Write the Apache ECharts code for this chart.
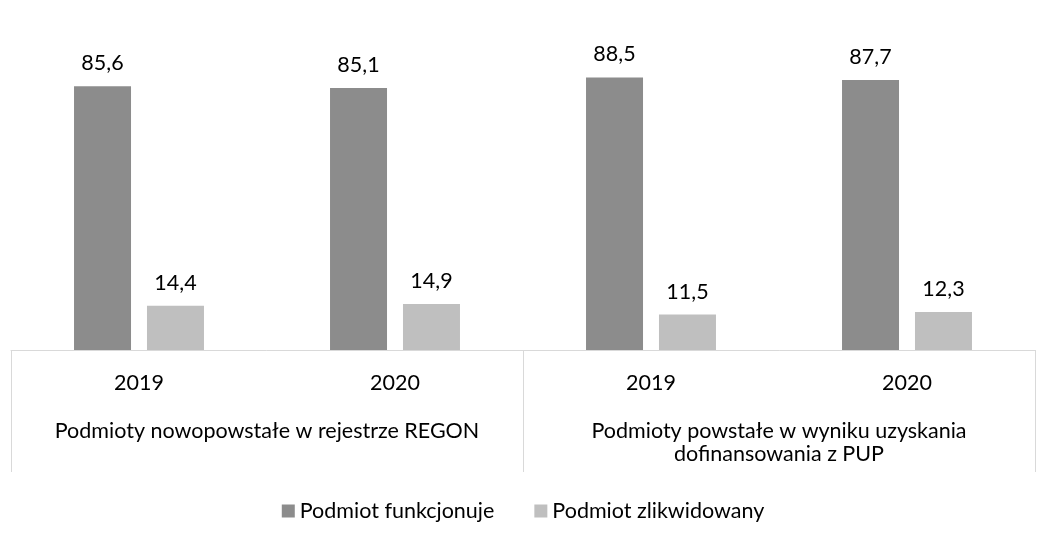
<!DOCTYPE html>
<html>
<head>
<meta charset="utf-8">
<script src="https://cdn.jsdelivr.net/npm/echarts@6/dist/echarts.min.js"></script>
<style>
  * { margin: 0; padding: 0; }
  #chart { width: 1046px; height: 544px; background: #fff; }
</style>
</head>
<body>
<div id="chart"></div>
<script>
// dane
var years = ['2019', '2020', '2019', '2020'];
var groups = ['Podmioty nowopowstałe w rejestrze REGON', 'Podmioty powstałe w wyniku uzyskania\ndofinansowania z PUP'];
var seriesNames = ['Podmiot funkcjonuje', 'Podmiot zlikwidowany'];
var funkcjonuje = [85.6, 85.1, 88.5, 87.7];
var zlikwidowany = [14.4, 14.9, 11.5, 12.3];

var FONT = 'Lato';
var FS = 21.5;
var chart = echarts.init(document.getElementById('chart'));

function labelFmt(p) {
  return String(p.value).replace('.', ',');
}

chart.setOption({
  animation: false,
  grid: { left: 11, right: 11, top: 42, bottom: 194, containLabel: false },
  legend: {
    data: seriesNames,
    top: 495,
    left: 'center',
    icon: 'rect',
    itemWidth: 13,
    itemHeight: 13,
    itemGap: 40,
    textStyle: { fontFamily: FONT, fontSize: FS, color: '#000' }
  },
  xAxis: [
    {
      type: 'category',
      data: years,
      position: 'bottom',
      axisLine: { lineStyle: { color: '#d9d9d9', width: 1 } },
      axisTick: { show: false },
      axisLabel: { margin: 22, fontFamily: FONT, fontSize: FS, color: '#000' }
    },
    {
      type: 'category',
      data: groups,
      position: 'bottom',
      axisLine: { show: false },
      axisTick: { show: true, length: 122, lineStyle: { color: '#d9d9d9', width: 1 } },
      axisLabel: { margin: 70, fontFamily: FONT, fontSize: FS, color: '#000', lineHeight: 23, interval: 0 }
    }
  ],
  yAxis: { type: 'value', min: 0, max: 100, show: false, splitLine: { show: false } },
  series: [
    {
      name: seriesNames[0],
      type: 'bar',
      xAxisIndex: 0,
      data: funkcjonuje,
      barWidth: 57,
      barGap: '28%',
      itemStyle: { color: '#8c8c8c' },
      label: { show: true, position: 'top', distance: 12, formatter: labelFmt, fontFamily: FONT, fontSize: FS, color: '#000' }
    },
    {
      name: seriesNames[1],
      type: 'bar',
      xAxisIndex: 0,
      data: zlikwidowany,
      barWidth: 57,
      barGap: '28%',
      itemStyle: { color: '#bfbfbf' },
      label: { show: true, position: 'top', distance: 12, formatter: labelFmt, fontFamily: FONT, fontSize: FS, color: '#000' }
    }
  ]
});
</script>
</body>
</html>
